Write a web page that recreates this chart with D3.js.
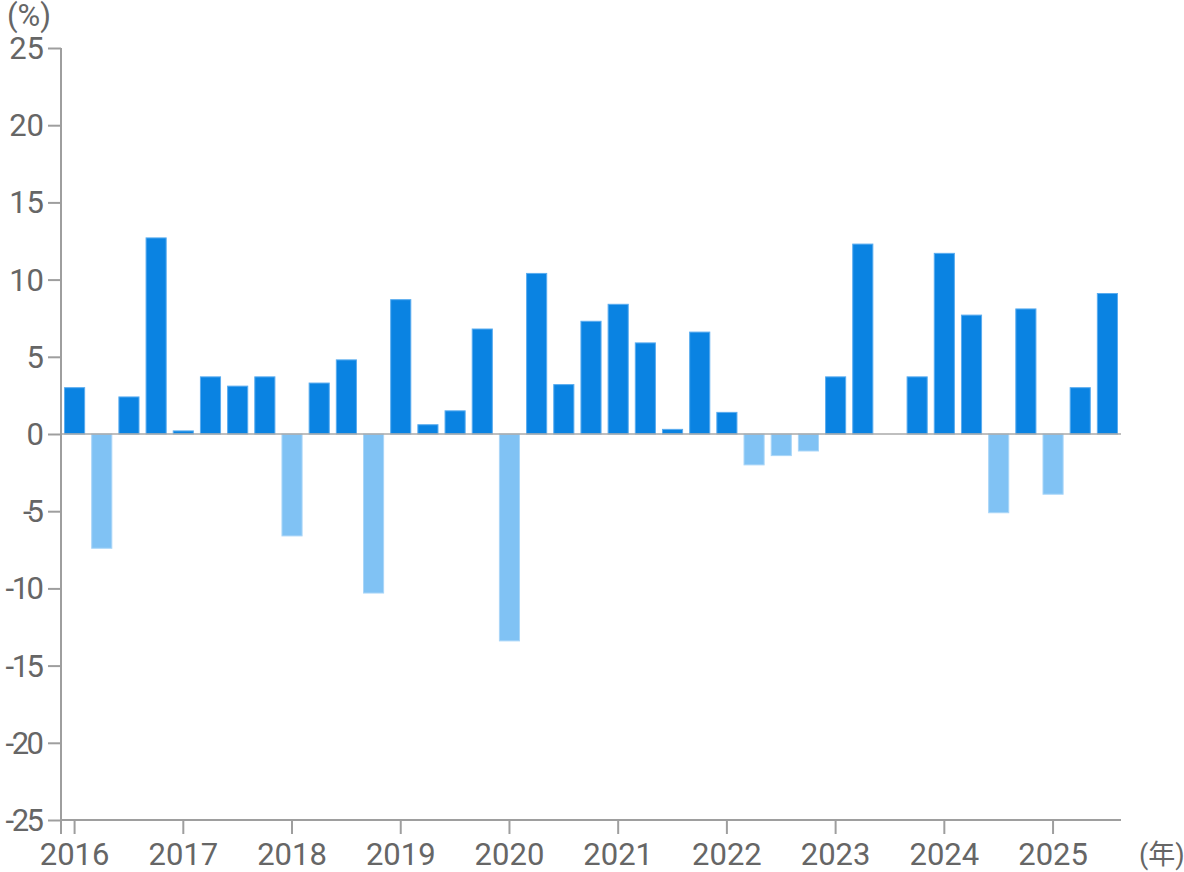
<!DOCTYPE html>
<html><head><meta charset="utf-8">
<script src="https://cdn.jsdelivr.net/npm/d3@7"></script>
<style>html,body{margin:0;padding:0;background:#fff;}svg{display:block;font-family:Roboto,"Noto Sans CJK JP",sans-serif;}</style>
</head><body><svg id="c" width="1184" height="872"></svg>
<script>
const years = ["2016","2017","2018","2019","2020","2021","2022","2023","2024","2025"];
const quarters = [
"2016Q1","2016Q2","2016Q3","2016Q4","2017Q1","2017Q2","2017Q3","2017Q4",
"2018Q1","2018Q2","2018Q3","2018Q4","2019Q1","2019Q2","2019Q3","2019Q4",
"2020Q1","2020Q2","2020Q3","2020Q4","2021Q1","2021Q2","2021Q3","2021Q4",
"2022Q1","2022Q2","2022Q3","2022Q4","2023Q1","2023Q2","2023Q3","2023Q4",
"2024Q1","2024Q2","2024Q3","2024Q4","2025Q1","2025Q2","2025Q3"];
const values = [
3.0,-7.4,2.4,12.7, 0.2,3.7,3.1,3.7,
-6.6,3.3,4.8,-10.3, 8.7,0.6,1.5,6.8,
-13.4,10.4,3.2,7.3, 8.4,5.9,0.3,6.6,
1.4,-2.0,-1.4,-1.1, 3.7,12.3,0.0,3.7,
11.7,7.7,-5.1,8.1, -3.9,3.0,9.1];
const yTicks = [25,20,15,10,5,0,-5,-10,-15,-20,-25];

const svg = d3.select("#c");
const L = 61, R = 1121, T = 48, B = 820;
const x = d3.scaleBand().domain(quarters).range([L, R]).paddingInner(0.26).paddingOuter(0.13);
const y = d3.scaleLinear().domain([-25, 25]).range([B, T]);
const axisCol = "#9e9e9e", textCol = "#666";

// bars
svg.append("g").selectAll("rect").data(quarters).join("rect")
  .attr("x", d => x(d))
  .attr("width", x.bandwidth())
  .attr("y", (d,i) => y(Math.max(0, values[i])))
  .attr("height", (d,i) => Math.abs(y(values[i]) - y(0)))
  .attr("fill", (d,i) => values[i] >= 0 ? "#0a83e2" : "#80c2f4")
  .attr("stroke", (d,i) => values[i] >= 0 ? "#5aacef" : "#a9d6f8")
  .attr("stroke-width", 1)
  .attr("display", (d,i) => values[i] === 0 ? "none" : null);

// zero line
svg.append("line").attr("x1", L).attr("x2", R).attr("y1", y(0)).attr("y2", y(0))
  .attr("stroke", "#aaa").attr("stroke-width", 1.5);

// y axis
const yAxis = d3.axisLeft(y).tickValues(yTicks).tickSize(13).tickSizeOuter(0).tickPadding(4)
  .tickFormat(d => String(d));
const gy = svg.append("g").attr("transform", `translate(${L},0)`).call(yAxis);
gy.select(".domain").attr("stroke", axisCol).attr("stroke-width", 2).attr("d", `M0,${T}V${B+14}`);
gy.selectAll(".tick line").attr("stroke", axisCol).attr("stroke-width", 2);
gy.selectAll(".tick text").attr("fill", textCol).attr("font-size", 31).attr("font-family", "Roboto").attr("dy", "0.34em")
  .each(function(d) {
    if (d < 0) {
      const w = this.getComputedTextLength();
      d3.select(this).attr("textLength", w - 5).attr("lengthAdjust", "spacing");
    }
  });

// x axis
const xYear = d3.scaleOrdinal().domain(years).range(years.map(yy => x(yy + "Q1") + x.bandwidth()/2));
const gx = svg.append("g").attr("transform", `translate(0,${B})`);
gx.append("line").attr("x1", L).attr("x2", R).attr("stroke", axisCol).attr("stroke-width", 2);
const xt = gx.selectAll("g.t").data(years).join("g").attr("class","t")
  .attr("transform", d => `translate(${xYear(d)},0)`);
xt.append("line").attr("y2", 14).attr("stroke", axisCol).attr("stroke-width", 2);
xt.append("text").attr("y", 45).attr("text-anchor", "middle").attr("fill", textCol)
  .attr("font-size", 31).text(d => d);

// units
svg.append("text").attr("x", 7).attr("y", 26).attr("fill", textCol).attr("font-size", 31).text("(%)");
svg.append("text").attr("x", 1139).attr("y", 864).attr("fill", textCol).attr("font-size", 27)
  .text("(年)");
</script></body></html>
